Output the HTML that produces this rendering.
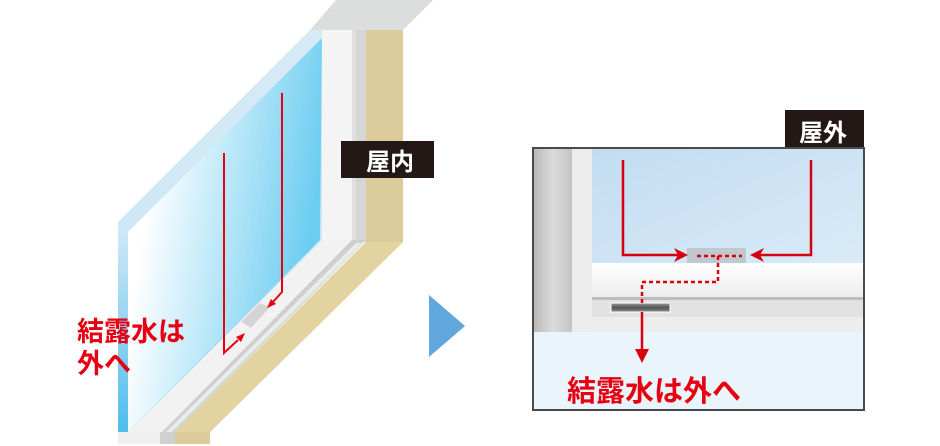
<!DOCTYPE html>
<html><head><meta charset="utf-8"><style>
html,body{margin:0;padding:0;background:#fff;width:940px;height:446px;overflow:hidden}
svg{display:block}
text{font-family:"Liberation Sans","Noto Sans CJK JP",sans-serif;font-weight:bold}
</style></head><body>
<svg width="940" height="446" viewBox="0 0 940 446" xmlns="http://www.w3.org/2000/svg">
<defs>
<linearGradient id="gl" x1="0" y1="0" x2="1" y2="0.3">
<stop offset="0.2" stop-color="#ffffff"/><stop offset="1" stop-color="#6dcdf1"/></linearGradient>
<linearGradient id="edge" x1="0" y1="0" x2="0" y2="1">
<stop offset="0" stop-color="#d7eaf6"/><stop offset="0.5" stop-color="#cfe8f6"/><stop offset="1" stop-color="#4fbdec"/></linearGradient>
<linearGradient id="col" x1="0" y1="0" x2="1" y2="0">
<stop offset="0" stop-color="#b8b8b8"/><stop offset="0.5" stop-color="#dcdcdc"/><stop offset="1" stop-color="#c4c4c4"/></linearGradient>
<linearGradient id="sky" x1="0" y1="0" x2="1" y2="1">
<stop offset="0" stop-color="#c2dcf1"/><stop offset="1" stop-color="#d9ebf8"/></linearGradient>
<linearGradient id="sill" x1="0" y1="0" x2="0" y2="1">
<stop offset="0" stop-color="#ffffff"/><stop offset="1" stop-color="#ececec"/></linearGradient>
<linearGradient id="slot" x1="0" y1="0" x2="0" y2="1">
<stop offset="0" stop-color="#9a9a9a"/><stop offset="0.5" stop-color="#555"/><stop offset="1" stop-color="#8a8a8a"/></linearGradient>
</defs>

<!-- LEFT: top cap -->
<polygon points="310,30 336,0 433,0 403,30" fill="#dcdddd"/>
<!-- beige wall -->
<polygon points="366,30 403,30 403,242 210,432 210,444 175,444 175,432 366,242" fill="#dccc9c"/>
<polygon points="366,242 403,242 210,432 175,432" fill="#e3d3a0"/>
<!-- white frame -->
<rect x="322" y="30" width="44" height="212" fill="#f4f4f4"/>
<rect x="352" y="30" width="4" height="212" fill="#e0e0e0"/>
<rect x="356" y="30" width="10" height="212" fill="#d6d6d6"/>
<!-- sill -->
<polygon points="322,240 366,240 175,432 118,432" fill="#f2f2f2"/>
<polygon points="352,240 366,240 175,432 162,432" fill="#cfcfcf"/>
<polygon points="356,243 362,243 172,432 166,432" fill="#ebebeb"/>
<rect x="118" y="432" width="57" height="12" fill="#f0f0f0"/>
<rect x="160" y="432" width="15" height="12" fill="#d0d0d0"/>
<!-- glass -->
<polygon points="118,222 310,30 322,30 322,240 128,432 118,432" fill="url(#edge)"/>
<polygon points="128,232 322,38 320,240 128,432" fill="url(#gl)"/>
<!-- drain piece -->
<polygon points="241,322 260,303 270,307 251,328" fill="#d4d4d4"/>
<polygon points="241,322 251,328 248,331 240,327" fill="#f4f4f4"/>
<!-- red lines left -->
<g stroke="#e60012" stroke-width="2" fill="none">
<polyline points="224,153 224,353 238,340"/>
<polyline points="282,93 282,292 272,303"/>
</g>
<polygon points="245,333 236,337 241,342" fill="#e60012"/>
<polygon points="267,308 276,304 271,299" fill="#e60012"/>
<text x="77" y="341" font-size="27" fill="#e60012">結露水は</text>
<text x="77" y="373" font-size="27" fill="#e60012">外へ</text>
<!-- 屋内 -->
<rect x="341" y="141" width="93" height="37" fill="#231815"/>
<text x="366" y="170" font-size="24" fill="#fff">屋内</text>
<!-- triangle -->
<polygon points="429,295 465,326 429,357" fill="#5fa7dc"/>

<!-- RIGHT panel -->
<rect x="785" y="110" width="79" height="40" fill="#231815"/>
<text x="799" y="141" font-size="24" fill="#fff">屋外</text>
<rect x="533" y="148" width="331" height="262" fill="#eaf4fb" stroke="#4a4a4a" stroke-width="2"/>
<rect x="592" y="149" width="271" height="114" fill="url(#sky)"/>
<rect x="592" y="263" width="271" height="34" fill="url(#sill)"/>
<rect x="592" y="297" width="271" height="3" fill="#bdbdbd"/>
<rect x="592" y="300" width="271" height="17" fill="#e2e2e2"/>
<rect x="592" y="317" width="271" height="15" fill="#ededed"/>
<rect x="534" y="149" width="38" height="183" fill="url(#col)"/>
<rect x="572" y="149" width="20" height="183" fill="#ececec"/>
<rect x="611" y="303" width="59" height="9" fill="url(#slot)" stroke="#fff" stroke-width="1"/>
<rect x="687" y="248" width="59" height="15" fill="#c0c8cf"/>
<g stroke="#d7000f" stroke-width="2.5" fill="none">
<polyline points="623,160 623,255 680,255"/>
<polyline points="811,160 811,255 758,255"/>
<polyline points="697,256 742,256" stroke-dasharray="4,3"/>
<polyline points="718,256 718,282 642,282 642,303" stroke-dasharray="4,3"/>
<line x1="642" y1="312" x2="642" y2="352"/>
</g>
<polygon points="688,255 674,248 678,255 674,262" fill="#d7000f"/>
<polygon points="750,255 764,248 760,255 764,262" fill="#d7000f"/>
<polygon points="642,363 635,349 649,349" fill="#d7000f"/>
<text x="567" y="401" font-size="29" fill="#e60012">結露水は外へ</text>
</svg>
</body></html>
